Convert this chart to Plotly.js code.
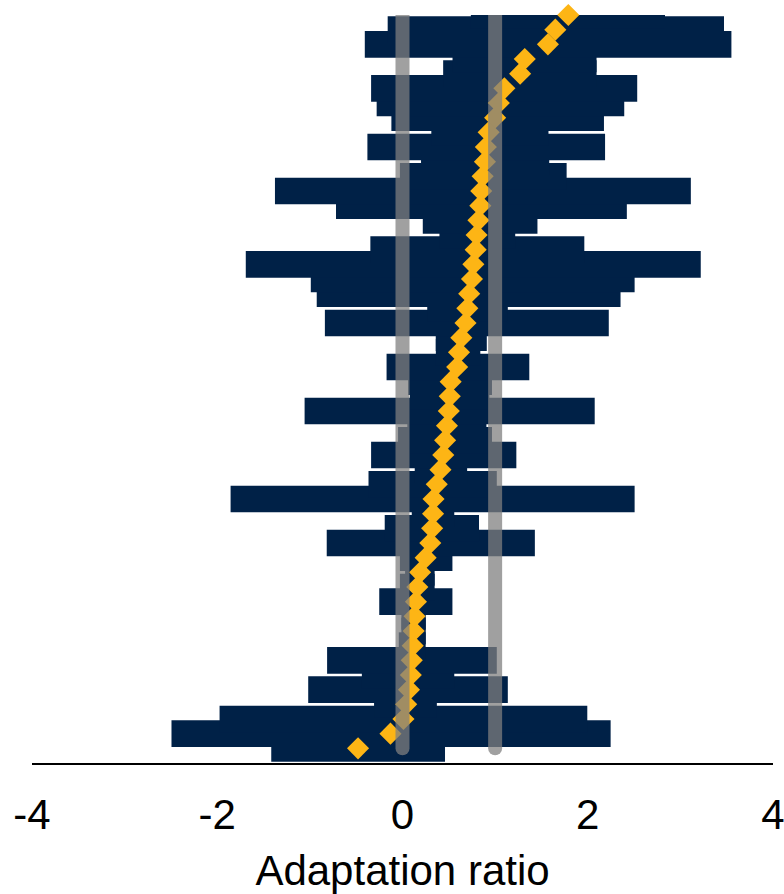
<!DOCTYPE html>
<html>
<head>
<meta charset="utf-8">
<script src="https://cdn.plot.ly/plotly-3.0.1.min.js"></script>
<style>
  html, body { margin: 0; padding: 0; background: #ffffff; }
  #chart { width: 784px; height: 894px; }
</style>
</head>
<body>
<div id="chart"></div>
<script>
// Studies ranked from bottom (1) to top (51) by adaptation ratio estimate
const studyRank = [1,2,3,4,5,6,7,8,9,10,11,12,13,14,15,16,17,18,19,20,21,22,23,24,25,26,27,28,29,30,31,32,33,34,35,36,37,38,39,40,41,42,43,44,45,46,47,48,49,50,51];

const estimate = [-0.48,-0.13,0.01,0.04,0.07,0.09,0.10,0.11,0.12,0.13,0.145,0.16,0.19,0.25,0.30,0.32,0.33,0.335,0.37,0.41,0.44,0.46,0.48,0.50,0.51,0.52,0.59,0.61,0.635,0.68,0.70,0.72,0.75,0.765,0.79,0.80,0.82,0.84,0.85,0.865,0.89,0.90,0.93,1.00,1.04,1.10,1.27,1.32,1.57,1.65,1.79];

const ciLower = [-1.417,-2.494,-1.975,-0.307,-1.018,-0.439,-0.814,-0.04,-0.012,-0.012,-0.251,-0.028,0.028,-0.028,-0.818,-0.192,0.10,-1.856,-0.367,0.132,-0.339,-0.048,0.052,-1.057,0.080,0.060,-0.172,0.36,0.359,-0.838,0.267,-0.926,-0.990,-1.692,-0.347,0.399,0.219,-0.718,-1.377,-0.028,0.200,-0.379,0.311,-0.120,-0.279,-0.339,0.439,0.54,-0.407,-0.160,0.738];

const ciUpper = [0.459,2.247,1.995,0.371,1.137,0.559,1.018,0.25,0.251,0.251,0.539,0.347,0.347,0.539,1.429,0.826,0.559,2.506,1.018,0.698,1.229,0.966,0.906,2.075,0.938,0.966,1.369,0.84,0.910,2.227,1.137,2.354,2.506,3.220,1.963,1.217,1.457,2.422,3.113,1.772,1.584,2.187,1.576,2.175,2.394,2.534,2.095,2.095,3.551,3.471,2.834];

const refLines = [0, 1];
const xTicks = [-4, -2, 0, 2, 4];
const xTickText = ['-4', '-2', '0', '2', '4'];
const xTitle = 'Adaptation ratio';

const NAVY = '#002147';
const GOLD = '#FDB515';
const GREY = 'rgba(127,127,127,0.74)';
const FONT = 'Liberation Sans, Arial, Helvetica, sans-serif';

const traces = [];

// confidence interval bars
traces.push({
  type: 'bar',
  orientation: 'h',
  y: studyRank,
  base: ciLower,
  x: ciUpper.map((u, i) => u - ciLower[i]),
  width: 1.82,
  marker: { color: NAVY, line: { width: 0 } },
  hoverinfo: 'skip',
  showlegend: false
});

// point estimates
traces.push({
  type: 'scatter',
  mode: 'markers',
  x: estimate,
  y: studyRank,
  marker: { symbol: 'diamond', size: 17, color: GOLD, line: { width: 0 } },
  cliponaxis: false,
  hoverinfo: 'skip',
  showlegend: false
});

// reference lines at 0 and 1
const yEnds = [studyRank[0], studyRank[studyRank.length - 1]];
refLines.forEach(v => {
  traces.push({
    type: 'scatter',
    mode: 'lines',
    x: [v, v],
    y: yEnds,
    line: { color: GREY, width: 14 },
    hoverinfo: 'skip',
    showlegend: false
  });
});

const layout = {
  width: 784,
  height: 894,
  margin: { l: 32, r: 11, t: 15, b: 131, pad: 0 },
  paper_bgcolor: '#ffffff',
  plot_bgcolor: '#ffffff',
  barmode: 'overlay',
  showlegend: false,
  font: { family: FONT, color: '#000000', size: 42 },
  xaxis: {
    range: [-4, 4],
    tickvals: xTicks,
    ticktext: xTickText,
    ticks: '',
    showgrid: false,
    zeroline: false,
    showline: true,
    linecolor: '#000000',
    linewidth: 2,
    tickfont: { family: FONT, size: 42, color: '#000000' },
    ticklabelstandoff: 14,
    ticklabeloverflow: 'allow',
    title: { text: xTitle, font: { family: FONT, size: 42, color: '#000000' }, standoff: 18 },
    fixedrange: true
  },
  yaxis: {
    range: [0, 51],
    visible: false,
    showgrid: false,
    zeroline: false,
    fixedrange: true
  }
};

Plotly.newPlot('chart', traces, layout, { displayModeBar: false, staticPlot: true }).then(() => {
  const scatterTraces = document.querySelectorAll('.scatterlayer .trace');
  scatterTraces.forEach((g, idx) => {
    if (idx >= 1) {
      g.querySelectorAll('path.js-line').forEach(p => {
        p.style.strokeLinecap = 'round';
      });
    }
  });
});
</script>
</body>
</html>
